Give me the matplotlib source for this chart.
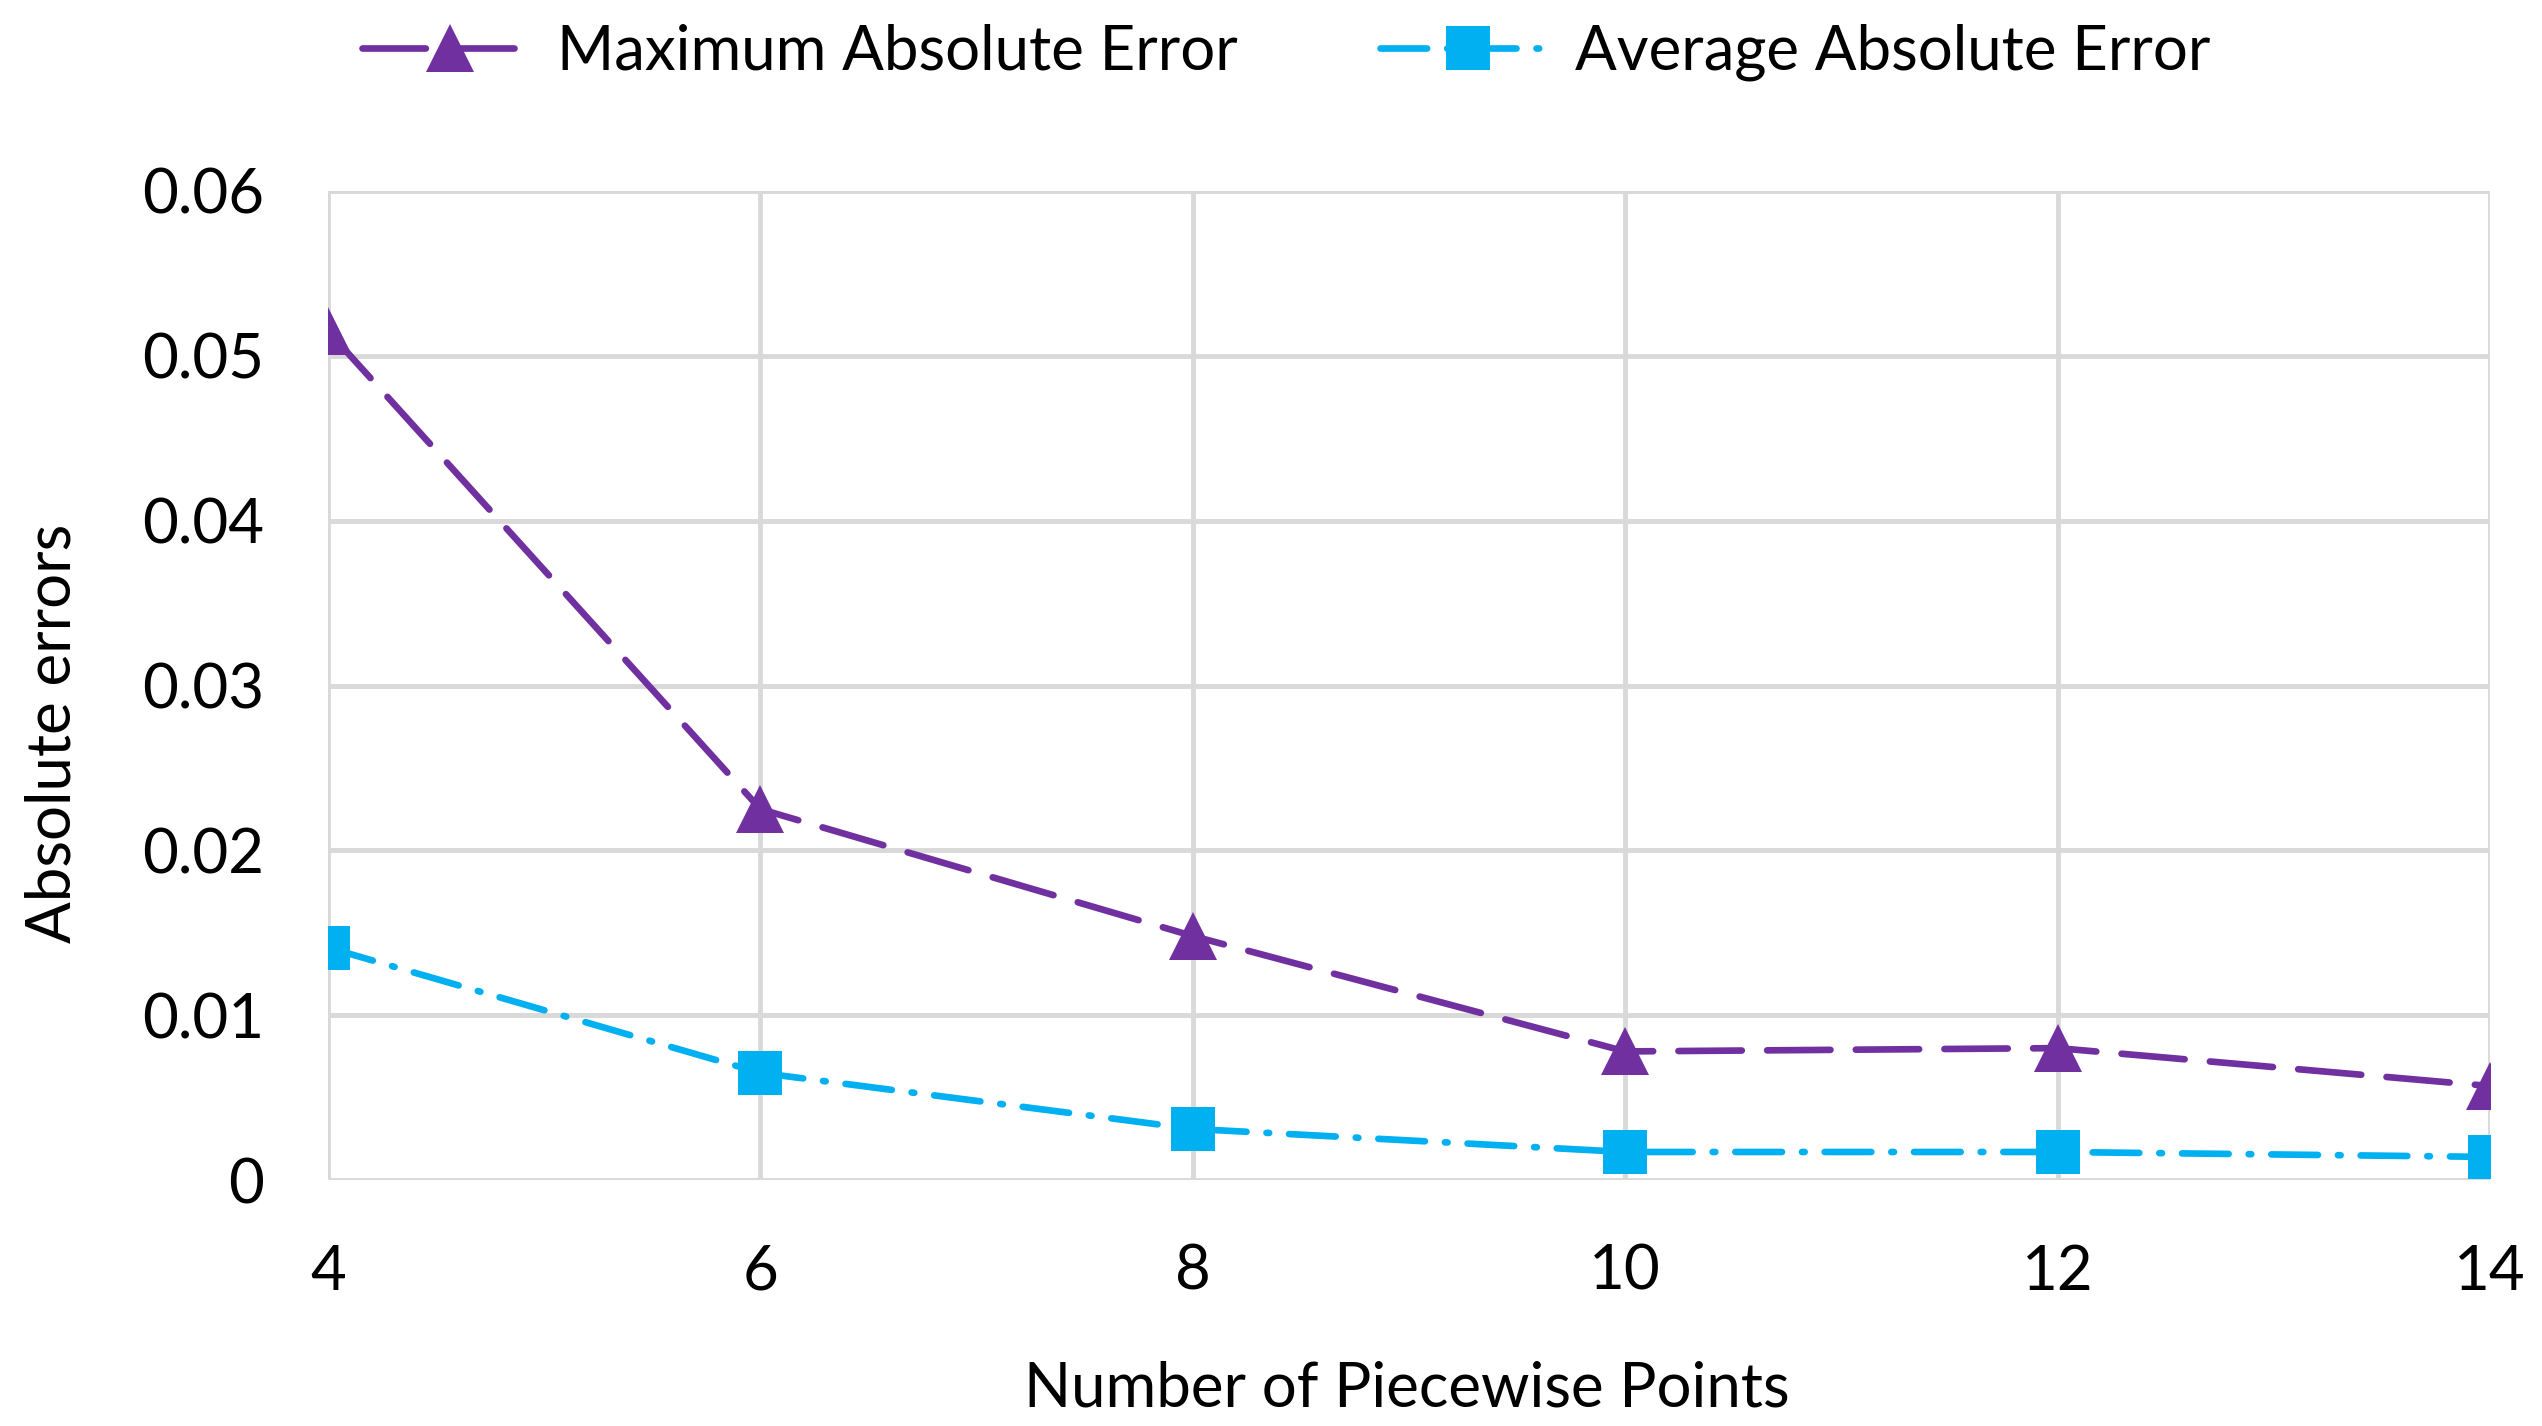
import matplotlib
matplotlib.use("Agg")
import matplotlib.pyplot as plt

# Data
points = [4, 6, 8, 10, 12, 14]
max_abs_err = [0.0515, 0.0225, 0.0148, 0.0078, 0.0080, 0.0057]
avg_abs_err = [0.0141, 0.0065, 0.0031, 0.0017, 0.0017, 0.0014]
yticks = [0, 0.01, 0.02, 0.03, 0.04, 0.05, 0.06]
ytick_labels = ["0", "0.01", "0.02", "0.03", "0.04", "0.05", "0.06"]
xticks = [4, 6, 8, 10, 12, 14]

plt.rcParams['font.family'] = ['Lato', 'DejaVu Sans']

W, H = 2542, 1426
FS = 44.5
fig = plt.figure(figsize=(W / 100, H / 100), dpi=100)
left, right, bottom, top = 328 / W, 2490 / W, 1 - 1180 / H, 1 - 191 / H
ax = fig.add_axes([left, bottom, right - left, top - bottom])

purple = '#7030A0'
blue = '#00B0F0'
grid_c = '#D9D9D9'

l1, = ax.plot(points, max_abs_err, color=purple, lw=4.8, dashes=(9.5, 3.8),
              marker='^', ms=34, markeredgewidth=0, label='Maximum Absolute Error',
              zorder=3, dash_capstyle='round')
l2, = ax.plot(points, avg_abs_err, color=blue, lw=4.8, dashes=(7, 3, 0.4, 3),
              marker='s', ms=31, markeredgewidth=0, label='Average Absolute Error',
              zorder=3, dash_capstyle='round')

ax.set_xlim(4, 14)
ax.set_ylim(0, 0.06)
ax.set_xticks(xticks)
ax.set_xticklabels([str(x) for x in xticks])
ax.set_yticks(yticks)
ax.set_yticklabels(ytick_labels)
ax.grid(True, color=grid_c, lw=3.5, zorder=0)
ax.set_axisbelow(True)
for s in ax.spines.values():
    s.set_visible(False)
ax.tick_params(axis='both', length=0, labelsize=FS, colors='black')
ax.tick_params(axis='x', pad=46)
ax.tick_params(axis='y', pad=46)

fig.text(1407 / W, 1 - 1389 / H, 'Number of Piecewise Points',
         ha='center', va='center', fontsize=FS)
fig.text(53 / W, 1 - 733 / H, 'Absolute errors', ha='center', va='center',
         rotation=90, fontsize=FS)

fig.legend(handles=[l1, l2], loc='center', bbox_to_anchor=(0.506, 1 - 52 / H),
           ncol=2, frameon=False, fontsize=FS, handlelength=2.85,
           handletextpad=0.3, columnspacing=2.3, borderaxespad=0)

fig.savefig('out.png', dpi=100)
